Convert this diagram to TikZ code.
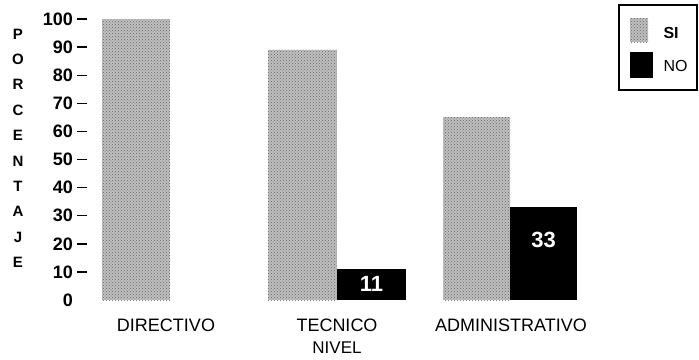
\documentclass[tikz,border=0pt]{standalone}
\usepackage{fontspec}
\setmainfont{Liberation Sans}
\usetikzlibrary{patterns}
\begin{document}
\begin{tikzpicture}[x=1pt,y=-1pt,
  si/.style={fill=black!25,postaction={pattern=crosshatch dots,pattern color=black!60}},
  no/.style={fill=black},
  tick/.style={anchor=east,inner xsep=0pt,font=\fontsize{18}{18}\selectfont\bfseries},
  vlet/.style={font=\fontsize{15}{15}\selectfont\bfseries},
  cat/.style={inner sep=1pt,font=\fontsize{18}{18}\selectfont},
  val/.style={text=white,font=\fontsize{22}{22}\selectfont\bfseries},
  leg/.style={anchor=west,font=\fontsize{16}{16}\selectfont}]
\useasboundingbox (0,0) rectangle (699,359);
% y axis tick labels and dashes
\foreach \v in {0,10,...,100}{
  \node[tick] (t\v) at (73,{300-2.81*\v}) {\v};
}
\foreach \v in {10,20,...,100}{
  \draw[line width=1.4pt] (77,{300-2.81*\v}) -- (87,{300-2.81*\v});
}
% vertical axis title
\foreach \l [count=\i from 0] in {P,O,R,C,E,N,T,A,J,E}{
  \node[vlet] (a\i) at (18,{34+25.4*\i}) {\l};
}
% bars
\fill[si] (102,{300-2.81*100}) rectangle (170,300);
\fill[si] (268,{300-2.81*89}) rectangle (337,300);
\fill[no] (337,{300-2.81*11}) rectangle (406,300);
\fill[si] (443,{300-2.81*65}) rectangle (510,300);
\fill[no] (510,{300-2.81*33}) rectangle (577,300);
\node[val] (v11) at (371.5,284) {11};
\node[val] (v33) at (543.5,240) {33};
% category labels
\node[cat] (c1) at (166,325) {DIRECTIVO};
\node[cat] (c2) at (337,325) {TECNICO};
\node[cat] (c3) at (511,325) {ADMINISTRATIVO};
\node[cat,font=\fontsize{17}{17}\selectfont] (xl) at (337,348) {NIVEL};
% legend
\draw[line width=1.1pt] (619,5) rectangle (697,90);
\fill[si] (630,18) rectangle (648,42);
\fill[no] (630,52) rectangle (653,78);
\node[leg,font=\fontsize{16}{16}\selectfont\bfseries] (lsi) at (660,33) {SI};
\node[leg] (lno) at (660,66) {NO};
\end{tikzpicture}
\end{document}
